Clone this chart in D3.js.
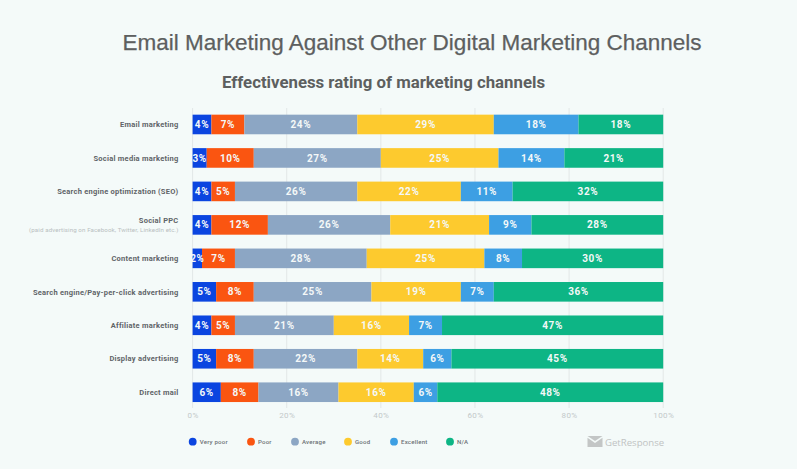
<!DOCTYPE html>
<html><head><meta charset="utf-8">
<script src="https://cdn.jsdelivr.net/npm/d3@7/dist/d3.min.js"></script>
<style>html,body{margin:0;padding:0;background:#f4faf9}svg{display:block}</style>
</head><body><svg id="c" width="797" height="469"></svg>
<script>
const channels=["Email marketing","Social media marketing","Search engine optimization (SEO)","Social PPC","Content marketing","Search engine/Pay-per-click advertising","Affiliate marketing","Display advertising","Direct mail"];
const seriesNames=["Very poor","Poor","Average","Good","Excellent","N/A"];
const veryPoor=[4,3,4,4,2,5,4,5,6];
const poor=[7,10,5,12,7,8,5,8,8];
const average=[24,27,26,26,28,25,21,22,17];
const good=[29,25,22,21,25,19,16,14,16];
const excellent=[18,14,11,9,8,7,7,6,5];
const na=[18,21,32,28,30,36,47,45,48];
const averageLabels=[24,27,26,26,28,25,21,22,16];
const excellentLabels=[18,14,11,9,8,7,7,6,6];
const colors=["#0b45e0","#fa5511","#8ca6c4","#fdca2e","#3d9fe3","#0db585"];
const ticks=[0,20,40,60,80,100];
const legendX=[192.7,251,295,348,394,450];
const seriesValues=[veryPoor,poor,average,good,excellent,na];
const seriesLabels=[veryPoor,poor,averageLabels,good,excellentLabels,na];

const svg=d3.select("#c");
const F="Roboto, sans-serif";
svg.append("rect").attr("width",797).attr("height",469).attr("fill","#f4faf9");
const x=d3.scaleLinear().domain([0,100]).range([192.6,663.2]);
const y=d3.scaleBand().domain(channels).range([108.3,408.4]).paddingInner(0.414).paddingOuter(0.19);

svg.append("text").attr("x",412).attr("y",50).attr("text-anchor","middle")
 .attr("font-family","Liberation Sans, Arial, sans-serif").attr("font-size",22.5).attr("fill","#5d5f5f").attr("stroke","#5d5f5f").attr("stroke-width",0.25).text("Email Marketing Against Other Digital Marketing Channels");
svg.append("text").attr("x",383.5).attr("y",87.5).attr("text-anchor","middle")
 .attr("font-family",F).attr("font-weight",700).attr("font-size",16.8).attr("fill","#5d5f5f").text("Effectiveness rating of marketing channels");

svg.append("g").selectAll("line").data(ticks).join("line")
 .attr("x1",d=>x(d)).attr("x2",d=>x(d)).attr("y1",108).attr("y2",408).attr("stroke","#e2e7e7").attr("stroke-width",1);
const axis=d3.axisBottom(x).tickValues(ticks).tickFormat(d=>d+"%").tickSize(0).tickPadding(0);
const gx=svg.append("g").attr("transform","translate(0,409)").call(axis);
gx.select(".domain").remove();
gx.selectAll("text").attr("y",3).attr("font-family",F).attr("font-size",8).attr("letter-spacing",0.4).attr("fill","#c3c9c9");

channels.forEach((c,i)=>{
  let acc=0;
  seriesValues.forEach((vals,s)=>{
    const v=vals[i],x0=x(acc),x1=x(acc+v);acc+=v;
    svg.append("rect").attr("x",x0).attr("y",y(c)).attr("width",x1-x0).attr("height",y.bandwidth()).attr("fill",colors[s]);
  });
  acc=0;
  seriesValues.forEach((vals,s)=>{
    const v=vals[i],x0=x(acc),x1=x(acc+v);acc+=v;
    svg.append("text").attr("x",(x0+x1)/2).attr("y",y(c)+y.bandwidth()/2+3.6).attr("text-anchor","middle")
      .attr("font-family",F).attr("font-weight",700).attr("font-size",10).attr("letter-spacing",0.6).attr("fill","#f4f8f8").text(seriesLabels[s][i]+"%");
  });
  const isPPC=c==="Social PPC";
  svg.append("text").attr("x",178.5).attr("y",y(c)+y.bandwidth()/2+(isPPC?-1.5:2.7)).attr("text-anchor","end")
    .attr("font-family",F).attr("font-weight",700).attr("font-size",7.5).attr("letter-spacing",0.25).attr("fill","#5f6468").text(c);
  if(isPPC) svg.append("text").attr("x",178.5).attr("y",y(c)+y.bandwidth()/2+7.5).attr("text-anchor","end")
    .attr("font-family",F).attr("font-size",6.2).attr("letter-spacing",0.1).attr("fill","#b9bfc1").text("(paid advertising on Facebook, Twitter, LinkedIn etc.)");
});

seriesNames.forEach((n,i)=>{
  svg.append("circle").attr("cx",legendX[i]).attr("cy",441.7).attr("r",3.9).attr("fill",colors[i]);
  svg.append("text").attr("x",legendX[i]+7).attr("y",444).attr("font-family",F).attr("font-weight",500).attr("font-size",6.1).attr("letter-spacing",0.2).attr("fill","#6c7175").text(n);
});

const logo=svg.append("g").attr("transform","translate(587.5,436)");
logo.append("path").attr("d","M0 0H15L7.5 5Z").attr("fill","#c3c6c6");
logo.append("path").attr("d","M0 1.8L7.5 7L15 1.8V11H0Z").attr("fill","#c3c6c6");
svg.append("text").attr("x",605).attr("y",446).attr("font-family","Open Sans, sans-serif").attr("font-size",9.6).attr("fill","#c0c3c3").text("GetResponse");
</script></body></html>
